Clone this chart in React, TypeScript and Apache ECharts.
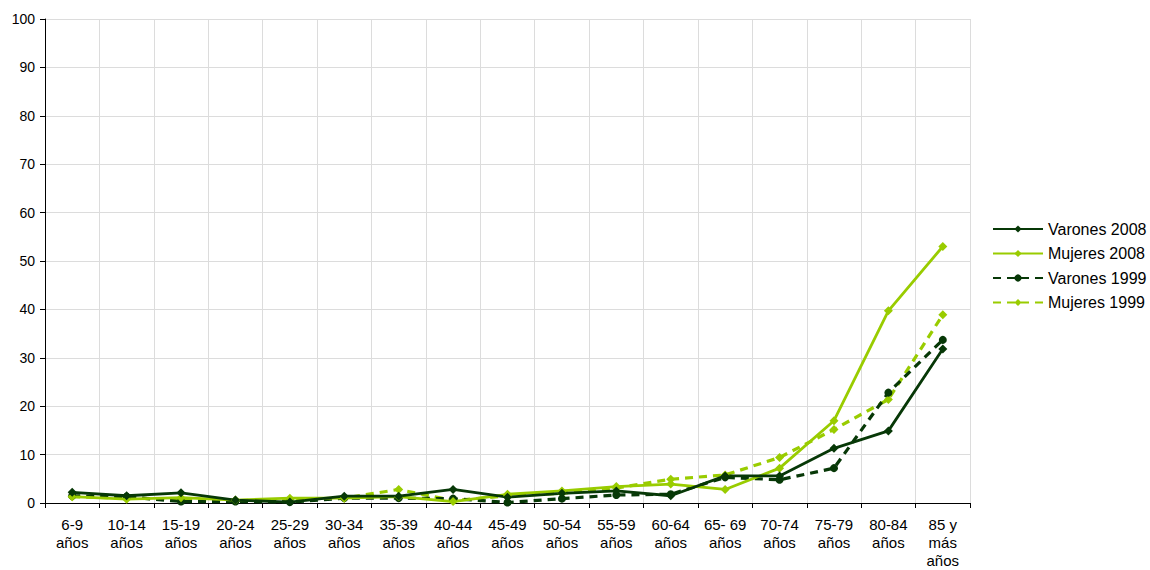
import React, { useEffect, useRef } from "react";
import * as echarts from "echarts";

const categories = [
  "6-9\naños", "10-14\naños", "15-19\naños", "20-24\naños", "25-29\naños",
  "30-34\naños", "35-39\naños", "40-44\naños", "45-49\naños", "50-54\naños",
  "55-59\naños", "60-64\naños", "65- 69\naños", "70-74\naños", "75-79\naños",
  "80-84\naños", "85 y\nmás\naños",
];

const varones2008 = [2.2, 1.5, 2.1, 0.6, 0.2, 1.4, 1.4, 2.8, 1.2, 2.0, 2.5, 1.5, 5.6, 5.6, 11.3, 14.9, 31.8];
const mujeres2008 = [1.3, 0.8, 1.1, 0.6, 1.0, 1.0, 1.3, 0.3, 1.8, 2.5, 3.4, 3.9, 2.8, 7.2, 17.0, 39.7, 53.0];
const varones1999 = [1.5, 1.3, 0.3, 0.3, 0.2, 1.0, 1.0, 0.9, 0.1, 0.9, 1.65, 1.8, 5.3, 4.8, 7.2, 22.8, 33.7];
const mujeres1999 = [1.3, 1.0, 0.8, 0.5, 0.7, 1.0, 2.8, 0.5, 1.5, 2.0, 3.1, 4.9, 5.8, 9.4, 15.2, 21.4, 38.9];

const DARK = "#073807";
const LIGHT = "#99CC00";
const FONT = "'Liberation Sans', Arial, sans-serif";

export default function App() {
  const ref = useRef<HTMLDivElement>(null);
  useEffect(() => {
    if (!ref.current) return;
    const chart = echarts.init(ref.current, undefined, { renderer: "svg" });
    const mk = (name: string, data: number[], color: string, dashed: boolean, symbol: string) => ({
      name,
      type: "line",
      data,
      symbol,
      symbolSize: symbol === "circle" ? 8 : 9,
      showSymbol: true,
      itemStyle: { color },
      lineStyle: { color, width: dashed ? 3.2 : 2.8, type: dashed ? [8, 6] : "solid" },
      emphasis: { disabled: true },
    });
    chart.setOption({
      animation: false,
      textStyle: { fontFamily: FONT },
      grid: { left: 45, top: 19, right: 180, bottom: 67, outerBoundsMode: "none", containLabel: false },
      legend: {
        orient: "vertical",
        left: 987,
        top: 216,
        itemWidth: 50,
        itemHeight: 9,
        itemGap: 8.5,
        textStyle: { fontSize: 16, color: "#000", fontFamily: FONT },
        data: ["Varones 2008", "Mujeres 2008", "Varones 1999", "Mujeres 1999"],
      },
      xAxis: {
        type: "category",
        data: categories,
        boundaryGap: true,
        axisLine: { lineStyle: { color: "#000", width: 1 } },
        axisTick: { show: true, length: 5, lineStyle: { color: "#000" } },
        axisLabel: { color: "#000", fontSize: 15, lineHeight: 18, margin: 12, interval: 0, fontFamily: FONT },
        splitLine: { show: true, lineStyle: { color: "#DCDCDC", width: 1 } },
      },
      yAxis: {
        type: "value",
        min: 0,
        max: 100,
        interval: 10,
        axisLine: { show: true, lineStyle: { color: "#000", width: 1 } },
        axisTick: { show: true, length: 5, lineStyle: { color: "#000" } },
        axisLabel: { color: "#000", fontSize: 14, margin: 10, fontFamily: FONT },
        splitLine: { show: true, lineStyle: { color: "#DCDCDC", width: 1 } },
      },
      series: [
        mk("Mujeres 1999", mujeres1999, LIGHT, true, "diamond"),
        mk("Varones 1999", varones1999, DARK, true, "circle"),
        mk("Mujeres 2008", mujeres2008, LIGHT, false, "diamond"),
        mk("Varones 2008", varones2008, DARK, false, "diamond"),
      ],
    });
    return () => chart.dispose();
  }, []);
  return (
    <div
      ref={ref}
      style={{ position: "absolute", left: 0, top: 0, width: 1150, height: 570, background: "#fff" }}
    />
  );
}
